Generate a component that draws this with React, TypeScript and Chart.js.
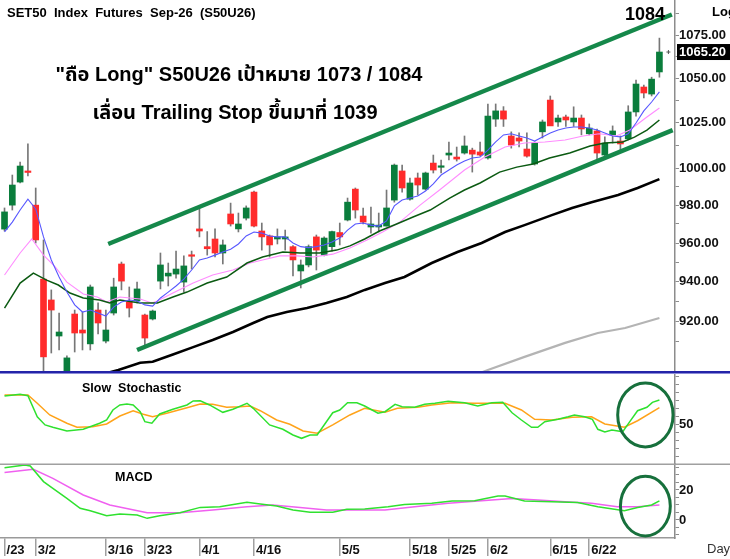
import React, { useEffect, useRef } from 'react';
import { Chart, registerables } from 'chart.js';

Chart.register(...registerables);

const FONT = 'Arial, "Liberation Sans", "Noto Sans", "Noto Sans Thai", Loma, Garuda, sans-serif';

// ---------- text ----------
const titleText = 'SET50  Index  Futures  Sep-26  (S50U26)';
const noteLine1 = '"ถือ Long" S50U26 เป้าหมาย 1073 / 1084';
const noteLine2 = 'เลื่อน Trailing Stop ขึ้นมาที่ 1039';
const targetText = '1084';

// ---------- x axis (bar index -> date label) ----------
const dateTickIndex = [0, 4, 13, 18, 25, 32, 43, 52, 57, 62, 70, 75];
const dateTickLabel = ['/23', '3/2', '3/16', '3/23', '4/1', '4/16', '5/5', '5/18', '5/25', '6/2', '6/15', '6/22'];

// ---------- price axis ticks ----------
const priceMajorTicks = [920, 940, 960, 980, 1000, 1025, 1050, 1075];
const priceMinorTicks = [910, 930, 950, 970, 990, 1012.5, 1037.5, 1062.5, 1087.5];
const stochTicks = [0, 10, 20, 30, 40, 50, 60, 70, 80, 90, 100, 110];
const stochLabelTicks = [50];
const macdTicks = [-10, -5, 0, 5, 10, 15, 20, 25, 30, 35];
const macdLabelTicks = [0, 20];

// ---------- candles ----------
const open = [967.3, 980.0, 992.4, 997.9, 980.0, 941.3, 930.7, 912.6, 893.0, 923.6,
  915.6, 908.7, 925.6, 910.1, 924.1, 949.1, 929.7, 930.2, 923.1, 921.1,
  940.3, 942.9, 943.9, 939.8, 953.6, 967.4, 958.1, 962.1, 954.8, 975.3,
  967.4, 973.1, 987.0, 966.3, 963.7, 962.1, 962.1, 958.1, 945.5, 948.6,
  963.2, 953.7, 958.1, 965.5, 972.1, 988.6, 974.2, 968.4, 968.4, 968.9,
  982.7, 998.4, 983.2, 994.6, 988.6, 1002.7, 1000.4, 1007.1, 1006.0, 1008.2,
  1009.8, 1008.8, 1005.5, 1027.0, 1031.6, 1017.6, 1016.5, 1010.4, 1002.2, 1019.9,
  1037.7, 1025.4, 1028.2, 1025.4, 1027.6, 1018.8, 1020.4, 1007.1, 1018.2, 1014.8,
  1016.0, 1031.0, 1045.1, 1041.1, 1053.7];
const high = [978.5, 996.2, 1003.3, 1013.2, 989.2, 961.6, 935.8, 924.1, 902.8, 925.6,
  924.6, 938.3, 929.2, 925.6, 941.8, 950.1, 937.3, 939.8, 923.6, 925.6,
  954.8, 949.6, 955.8, 953.3, 955.8, 978.5, 966.0, 967.4, 961.6, 981.1,
  975.8, 979.6, 987.6, 970.5, 964.2, 967.4, 966.8, 958.6, 951.2, 959.0,
  964.2, 963.2, 966.3, 970.5, 983.8, 989.2, 978.5, 979.0, 975.8, 988.1,
  1002.2, 1001.6, 994.6, 997.3, 997.8, 1007.1, 1004.4, 1014.3, 1011.5, 1017.6,
  1010.9, 1014.3, 1035.5, 1035.5, 1034.0, 1019.9, 1019.3, 1019.3, 1014.3, 1026.5,
  1040.0, 1029.3, 1029.3, 1033.9, 1029.3, 1024.3, 1021.5, 1017.1, 1023.2, 1017.6,
  1034.5, 1049.1, 1046.2, 1050.7, 1073.3];
const low = [966.3, 977.4, 991.9, 995.7, 960.0, 893.0, 904.2, 905.7, 890.0, 904.7,
  905.7, 905.7, 913.6, 909.2, 923.1, 935.8, 922.1, 929.2, 908.2, 920.6,
  936.3, 937.8, 941.8, 934.7, 946.5, 963.2, 953.7, 952.7, 949.1, 968.9,
  965.8, 972.1, 968.4, 956.3, 952.7, 959.5, 956.3, 942.9, 936.8, 947.6,
  946.0, 953.3, 955.7, 959.0, 971.6, 973.1, 970.0, 965.2, 965.8, 968.9,
  981.6, 987.0, 982.7, 985.4, 988.1, 997.3, 997.3, 1004.4, 1003.8, 1007.6,
  997.8, 1006.5, 1004.9, 1022.9, 1022.9, 1010.9, 1011.5, 1006.0, 1001.6, 1016.5,
  1023.7, 1022.9, 1022.9, 1022.9, 1018.2, 1018.2, 1004.4, 1006.5, 1013.7, 1009.8,
  1015.4, 1028.7, 1038.9, 1040.0, 1050.7];
const close = [976.4, 990.8, 1001.1, 997.6, 961.6, 902.3, 925.6, 914.6, 901.8, 914.1,
  914.1, 937.3, 919.1, 915.6, 937.3, 940.3, 926.6, 936.3, 911.6, 925.1,
  948.6, 944.4, 946.5, 948.1, 953.1, 966.3, 957.0, 954.8, 959.0, 970.0,
  970.0, 978.5, 968.9, 963.2, 959.0, 963.2, 963.2, 951.2, 948.6, 958.1,
  956.3, 962.6, 966.0, 963.2, 981.6, 977.4, 971.0, 970.0, 969.4, 978.5,
  1001.6, 989.2, 991.9, 990.8, 997.3, 998.9, 1000.6, 1008.2, 1004.9, 1012.1,
  1007.6, 1007.1, 1028.7, 1031.6, 1027.0, 1012.6, 1014.8, 1006.5, 1013.7, 1025.4,
  1023.2, 1027.6, 1026.5, 1027.6, 1021.5, 1022.0, 1008.2, 1013.7, 1020.4, 1013.2,
  1031.0, 1046.8, 1041.7, 1049.6, 1065.2];

// ---------- moving averages ----------
const maBlue = [965.8, 971.0, 977.4, 983.2, 978.0, 963.2, 951.2, 942.4, 934.7, 928.2,
  924.6, 925.6, 924.1, 922.6, 927.1, 929.7, 930.7, 930.2, 928.2, 927.6,
  931.7, 934.7, 937.8, 941.3, 946.0, 951.2, 952.2, 953.7, 955.3, 956.8,
  959.5, 963.7, 965.8, 965.2, 963.7, 963.2, 963.2, 960.0, 958.1, 957.6,
  958.1, 959.0, 960.5, 962.6, 966.8, 970.0, 970.5, 969.4, 968.9, 971.6,
  979.6, 982.7, 983.8, 984.9, 987.6, 991.4, 996.2, 998.9, 1001.6, 1003.8,
  1005.5, 1006.0, 1009.8, 1014.3, 1018.2, 1018.8, 1017.6, 1016.5, 1014.8, 1017.1,
  1019.3, 1020.9, 1022.0, 1022.6, 1022.6, 1022.0, 1020.9, 1019.3, 1017.6, 1017.1,
  1018.8, 1024.8, 1031.6, 1036.6, 1042.3];
const maPink: [number, number][] = [[0, 943.4], [2.0, 954.8], [3.5, 962.1], [5.0, 953.7], [6.5, 947.6], [8.0, 939.8],
  [10.1, 933.7], [11.9, 932.2], [13.1, 929.7], [14.8, 932.2], [17.4, 931.2], [18.9, 929.2], [19.6, 930.2],
  [21.6, 934.2], [24.2, 939.3], [26.7, 943.4], [29.3, 946.0], [31.5, 949.6], [33.1, 951.2], [35.3, 953.3],
  [37.5, 953.3], [39.6, 952.7], [42.1, 954.2], [44.3, 957.4], [46.5, 961.6], [48.5, 965.8], [50.7, 971.0],
  [53.3, 980.0], [55.8, 988.1], [59.0, 998.9], [61.6, 1006.0], [64.2, 1011.5], [66.7, 1013.7], [69.3, 1014.3],
  [71.9, 1015.4], [74.2, 1017.6], [76.3, 1018.8], [78.5, 1017.6], [80.2, 1020.9], [82.4, 1028.2], [84, 1033.2]];
const maDarkGreen: [number, number][] = [[0, 926.6], [2.0, 939.3], [3.7, 944.4], [5.4, 940.8], [6.9, 938.3], [8.4, 934.2],
  [10.1, 931.7], [12.2, 930.7], [13.5, 929.2], [14.8, 930.7], [17.4, 929.2], [19.6, 929.2], [21.6, 932.2],
  [23.4, 934.7], [26.0, 939.3], [28.5, 942.4], [31.1, 949.6], [33.1, 952.7], [35.7, 955.3], [37.9, 954.8],
  [40.4, 954.8], [42.6, 956.3], [44.3, 958.5], [46.2, 962.1], [48.1, 966.3], [50.3, 970.0], [52.4, 973.7],
  [54.6, 977.4], [57.1, 983.8], [59.0, 988.1], [61.0, 991.9], [63.5, 997.8], [65.7, 1000.5], [67.8, 1002.2],
  [69.9, 1005.5], [72.5, 1008.2], [75.1, 1012.1], [77.0, 1013.7], [79.3, 1014.3], [80.8, 1017.0], [82.4, 1020.9],
  [84, 1026.5]];
const maBlack: [number, number][] = [[12.2, 893.4], [14.6, 895.9], [17.4, 899.4], [19.0, 899.9], [21.6, 903.5],
  [24.2, 907.1], [26.7, 910.6], [29.3, 914.6], [31.9, 919.1], [33.7, 922.1], [36.2, 924.6], [38.8, 926.6],
  [41.3, 929.2], [43.9, 932.2], [46.2, 935.8], [48.8, 939.3], [51.3, 942.4], [54.8, 949.6], [58.1, 955.3],
  [61.2, 960.0], [64.2, 965.8], [66.7, 969.4], [70.2, 974.7], [72.8, 978.5], [75.3, 981.6], [78.7, 985.4],
  [81.2, 989.2], [84, 994.0]];
const maGray: [number, number][] = [[61.0, 894.4], [62.0, 895.9], [66.7, 902.3], [71.9, 909.2], [76.1, 914.1],
  [79.6, 916.6], [84, 921.6]];

// ---------- trend channel (start / end points: bar index, price) ----------
const channelUpper: [number, number][] = [[13.3, 959.5], [85.6, 1087.2]];
const channelLower: [number, number][] = [[17.0, 905.7], [85.7, 1020.9]];

// ---------- slow stochastic ----------
const stochK: [number, number][] = [[0, 85], [2, 87.1], [3, 85.4], [4.2, 59.1], [5.2, 48.8], [6.2, 45.9], [8, 41.3],
  [10.1, 43.4], [12.2, 50.9], [13.1, 55], [13.9, 67.5], [14.8, 73.8], [15.7, 75], [16.5, 73.8], [17.4, 65.4],
  [18, 52.9], [18.9, 50.9], [19.9, 62.5], [21.6, 68.4], [23.4, 73.8], [24.2, 78.8], [25.1, 79.1], [26.3, 73.8],
  [28, 64.6], [29.3, 68.4], [31.1, 75.9], [31.9, 69.6], [34, 48.8], [35.7, 43.4], [37, 36.3], [38.1, 32.1],
  [39.2, 36.3], [40.1, 36.3], [42.1, 64.1], [43, 67.5], [44, 76.6], [45.2, 76.6], [46.2, 72.5], [47.9, 63.4],
  [48.8, 65.4], [50.1, 74.6], [51, 71.6], [52.6, 70.9], [53.9, 74.6], [55.2, 75.9], [56.9, 78.4], [59, 76.6],
  [60.7, 72.5], [62.5, 76.6], [63.9, 77.1], [65.1, 64.1], [66.3, 55], [67.6, 45.9], [68.4, 45.9], [69.3, 52.9],
  [71, 55.9], [72.3, 59.1], [73.1, 61.3], [74.4, 59.1], [75.4, 55.9], [76.1, 43.4], [77, 40], [77.9, 42.5],
  [78.7, 41.3], [79.3, 40.4], [80.2, 52.9], [81.2, 66.6], [82.4, 70.9], [83.1, 77.1], [84, 80]];
const stochD: [number, number][] = [[0, 86.3], [3, 86.3], [4.2, 75.9], [5.8, 61.3], [8, 50.9], [9.3, 45.9], [11.3, 46.6],
  [13.1, 50], [14.8, 60], [16.5, 66.6], [17.8, 62.1], [19, 59.1], [20.8, 63.4], [23.4, 70.4], [25.1, 75],
  [26.7, 74.6], [28.5, 70.9], [30.2, 71.6], [31.5, 72.5], [32.8, 66.6], [34.9, 55], [36.6, 49.6], [38.3, 41.3],
  [40.1, 38.4], [42.1, 48.8], [44.3, 61.3], [46.2, 69.6], [48.8, 64.6], [50.4, 69.6], [53, 70.9], [54.8, 73.8],
  [57.4, 76.6], [60.3, 75.9], [62.5, 75.9], [64.2, 75.9], [66.3, 67.5], [68, 55.9], [70.2, 55], [72.8, 58.4],
  [75.3, 59.1], [77, 50], [79.5, 45.9], [81.2, 54.1], [84, 70.4]];

// ---------- MACD ----------
const macdLine: [number, number][] = [[0, 34.9], [2.6, 36.7], [3.3, 36], [5, 25.6], [6.2, 21.1], [8, 14.4], [9.7, 7.8],
  [11, 6.2], [13.1, 2.9], [14.8, 4], [17, 3.3], [18.3, 1.1], [19.9, 2.9], [22.5, 4.9], [25.1, 8.4], [27.6, 8.9],
  [31.1, 11.8], [32.8, 10.7], [34.9, 9.3], [37, 6.7], [39.2, 5.1], [42.1, 5.1], [43.9, 7.1], [46.2, 7.3],
  [49.2, 8.9], [51.3, 10.4], [54.8, 11.1], [57.4, 12.7], [60.3, 12.9], [63.3, 16], [64.2, 16], [66.7, 12.7],
  [70.2, 12.2], [73.5, 11.6], [76.1, 8.9], [79.5, 6.2], [81.2, 8.4], [83, 10], [84, 12.7]];
const macdSignal: [number, number][] = [[0, 31.6], [3.7, 33.8], [6.2, 27.8], [10.1, 16.7], [13.5, 10], [18.3, 4.9],
  [22.5, 4.9], [26.7, 6.7], [31.1, 8.9], [34.4, 10], [37.9, 8.4], [41.3, 6.7], [46.2, 6.7], [48.8, 6.7],
  [52.6, 8.9], [56.9, 11.1], [61.2, 12.9], [65.1, 14.4], [68.4, 13.3], [71.9, 12.2], [75.3, 11.1], [78.6, 8.9],
  [81.2, 8.9], [84, 10]];

// ---------- highlight ellipses: [center index, center value, radius index, radius value] ----------
const stochEllipse = [82.2, 61.3, 3.55, 40];
const macdEllipse = [82.2, 9.3, 3.2, 19.9];

const GREEN_BODY = '#0a7d3c';
const RED_BODY = '#ff2b2b';
const CHANNEL = '#15884a';

const pts = (arr: [number, number][]) => arr.map(([x, y]) => ({ x, y }));

const overlayPlugin = {
  id: 'overlay',
  afterDraw(chart: any) {
    const { ctx } = chart;
    const xs = chart.scales.x;
    const ys = chart.scales.y;
    const yS = chart.scales.yS;
    const yM = chart.scales.yM;
    ctx.save();
    // panel separators
    ctx.fillStyle = '#2424a8';
    ctx.fillRect(0, ys.bottom - 1, 730, 2);
    ctx.fillStyle = '#8c8cd8';
    ctx.fillRect(0, ys.bottom + 1, 730, 1);
    ctx.fillStyle = '#a0a0a0';
    ctx.fillRect(0, yM.top - 0.5, 730, 1.5);

    // ellipses
    const drawEllipse = (scale: any, e: number[]) => {
      const px = xs.getPixelForValue(e[0]);
      const py = scale.getPixelForValue(e[1]);
      const rx = Math.abs(xs.getPixelForValue(e[0] + e[2]) - px);
      const ry = Math.abs(scale.getPixelForValue(e[1] + e[3]) - py);
      ctx.beginPath();
      ctx.ellipse(px, py, rx, ry, 0, 0, Math.PI * 2);
      ctx.strokeStyle = '#17703c';
      ctx.lineWidth = 3;
      ctx.stroke();
    };
    drawEllipse(yS, stochEllipse);
    drawEllipse(yM, macdEllipse);

    // texts
    ctx.fillStyle = '#000';
    ctx.textAlign = 'left';
    ctx.textBaseline = 'alphabetic';
    ctx.font = `bold 13px ${FONT}`;
    ctx.fillText(titleText, 7, 17);
    ctx.font = `bold 20px ${FONT}`;
    ctx.textAlign = 'center';
    ctx.fillText(noteLine1, 239, 81);
    ctx.fillText(noteLine2, 235, 119);
    ctx.textAlign = 'left';
    ctx.font = `bold 18px ${FONT}`;
    ctx.fillText(targetText, 625, 20);
    ctx.font = `bold 13px ${FONT}`;
    ctx.fillText('Log', 712, 16);
    ctx.font = `bold 12.5px ${FONT}`;
    ctx.fillText('Slow  Stochastic', 82, 392);
    ctx.fillText('MACD', 115, 481);
    ctx.font = `13px ${FONT}`;
    ctx.fillStyle = '#333';
    ctx.fillText('Day', 707, 553);

    // last price marker
    const last = close[close.length - 1];
    const lp = ys.getPixelForValue(last);
    ctx.fillStyle = '#000';
    ctx.fillRect(ys.left + 2, lp - 8, 730 - ys.left - 2, 16);
    ctx.fillStyle = '#fff';
    ctx.font = `bold 13px ${FONT}`;
    ctx.textBaseline = 'middle';
    ctx.fillText(last.toFixed(2), ys.left + 4, lp + 0.5);
    const lx = xs.getPixelForValue(close.length - 1) + 9;
    ctx.strokeStyle = '#555';
    ctx.lineWidth = 1;
    ctx.beginPath();
    ctx.moveTo(lx - 2, lp); ctx.lineTo(lx + 2, lp);
    ctx.moveTo(lx, lp - 2); ctx.lineTo(lx, lp + 2);
    ctx.stroke();
    ctx.restore();
  },
};

export default function App() {
  const ref = useRef<HTMLCanvasElement>(null);
  useEffect(() => {
    document.body.style.margin = '0';
    const canvas = ref.current!;
    const idx = close.map((_, i) => i);
    const up = idx.map((i) => close[i] >= open[i]);
    const bodyData = idx.map((i) => ({ x: i, y: [open[i], close[i]] }));
    const wickData = idx.map((i) => ({ x: i, y: [low[i], high[i]] }));

    const tickFont = { family: FONT, weight: 'bold' as const, size: 13 };
    const yCommon = (width: number) => ({
      position: 'right' as const,
      stack: 'panels',
      border: { color: '#8c8c8c', width: 1.5 },
      grid: { drawOnChartArea: false, drawTicks: true, tickLength: 4, color: '#8c8c8c' },
      afterFit: (s: any) => {
        s.width = width;
        s.paddingTop = 0;
        s.paddingBottom = 0;
      },
    });

    const line = (data: [number, number][], color: string, width: number, axis: string, order: number) => ({
      type: 'line' as const,
      data: pts(data),
      borderColor: color,
      borderWidth: width,
      pointRadius: 0,
      tension: 0,
      fill: false,
      yAxisID: axis,
      xAxisID: 'x',
      order,
    });

    const chart = new Chart(canvas, {
      type: 'bar',
      data: {
        datasets: [
          line(channelUpper, CHANNEL, 4.5, 'y', 0),
          line(channelLower, CHANNEL, 4.5, 'y', 0),
          line(maGray, '#b4b4b4', 2.2, 'y', 2),
          line(maBlack, '#000000', 2.6, 'y', 2),
          line(maDarkGreen, '#0b5a12', 1.5, 'y', 2),
          line(maPink, '#ff8cff', 1.1, 'y', 2),
          { ...line(idx.map((i) => [i, maBlue[i]] as [number, number]), '#5757ff', 1.1, 'y', 1) },
          {
            type: 'bar' as const,
            data: bodyData as any,
            backgroundColor: up.map((u) => (u ? GREEN_BODY : RED_BODY)),
            barThickness: 6,
            minBarLength: 1.5,
            grouped: false,
            borderWidth: 0,
            yAxisID: 'y',
            xAxisID: 'x',
            order: 5,
          },
          {
            type: 'bar' as const,
            data: wickData as any,
            backgroundColor: '#777777',
            barThickness: 1,
            grouped: false,
            borderWidth: 0,
            yAxisID: 'y',
            xAxisID: 'x',
            order: 6,
          },
          line(stochD, '#ffa31a', 1.5, 'yS', 3),
          line(stochK, '#2fe12f', 1.5, 'yS', 2),
          line(macdSignal, '#f060f0', 1.5, 'yM', 3),
          line(macdLine, '#2fe12f', 1.5, 'yM', 2),
        ] as any,
      },
      options: {
        responsive: false,
        maintainAspectRatio: false,
        animation: false,
        layout: { padding: 0 },
        plugins: { legend: { display: false }, tooltip: { enabled: false }, title: { display: false } },
        scales: {
          x: {
            type: 'linear',
            position: 'bottom',
            min: -0.58,
            max: 86,
            offset: false,
            border: { color: '#9a9a9a', width: 1.5 },
            grid: { drawOnChartArea: false, drawTicks: true, tickLength: 18, color: '#a0a0a0', lineWidth: 1.5, offset: false },
            ticks: {
              autoSkip: false,
              maxRotation: 0,
              minRotation: 0,
              align: 'start',
              labelOffset: 2,
              padding: -13,
              color: '#111',
              font: tickFont,
              callback: (v: any) => {
                const k = dateTickIndex.indexOf(Number(v));
                return k >= 0 ? dateTickLabel[k] : '';
              },
            },
            afterBuildTicks: (s: any) => {
              s.ticks = dateTickIndex.map((v) => ({ value: v }));
            },
            afterFit: (s: any) => {
              s.height = 21;
              s.paddingLeft = 0;
              s.paddingRight = 0;
            },
          },
          y: {
            ...yCommon(55),
            type: 'logarithmic',
            stackWeight: 372,
            min: 894.9,
            max: 1095.8,
            ticks: {
              autoSkip: false,
              padding: 0,
              color: '#111',
              font: tickFont,
              callback: (v: any) => (priceMajorTicks.includes(Number(v)) ? Number(v).toFixed(2) : ''),
            },
            afterBuildTicks: (s: any) => {
              s.ticks = [...priceMajorTicks, ...priceMinorTicks].sort((a, b) => a - b).map((v) => ({ value: v }));
            },
          },
          yS: {
            ...yCommon(55),
            type: 'linear',
            stackWeight: 92,
            min: 0,
            max: 115,
            ticks: {
              autoSkip: false,
              padding: 0,
              color: '#111',
              font: tickFont,
              callback: (v: any) => (stochLabelTicks.includes(Number(v)) ? String(v) : ''),
            },
            afterBuildTicks: (s: any) => {
              s.ticks = stochTicks.map((v) => ({ value: v }));
            },
          },
          yM: {
            ...yCommon(55),
            type: 'linear',
            stackWeight: 74,
            min: -12,
            max: 37.33,
            ticks: {
              autoSkip: false,
              padding: 0,
              color: '#111',
              font: tickFont,
              callback: (v: any) => (macdLabelTicks.includes(Number(v)) ? String(v) : ''),
            },
            afterBuildTicks: (s: any) => {
              s.ticks = macdTicks.map((v) => ({ value: v }));
            },
          },
        },
      } as any,
      plugins: [overlayPlugin],
    });
    return () => chart.destroy();
  }, []);

  return (
    <div style={{ width: 730, height: 559 }}>
      <canvas ref={ref} width={730} height={559} style={{ display: 'block' }} />
    </div>
  );
}
